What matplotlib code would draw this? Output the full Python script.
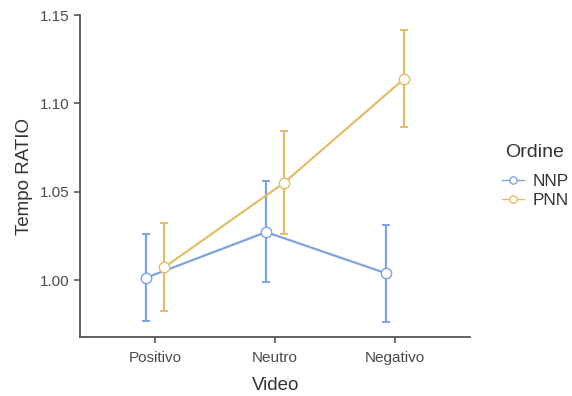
import matplotlib
matplotlib.use("Agg")
import matplotlib.pyplot as plt
import numpy as np

plt.rcParams['font.family'] = ['Liberation Sans', 'DejaVu Sans']

categories = ['Positivo', 'Neutro', 'Negativo']
groups = ['NNP', 'PNN']
means = {
    'NNP': [1.0015, 1.0273, 1.0040],
    'PNN': [1.0073, 1.0552, 1.1140],
}
lower = {
    'NNP': [0.9770, 0.9990, 0.9763],
    'PNN': [0.9825, 1.0260, 1.0868],
}
upper = {
    'NNP': [1.0265, 1.0564, 1.0315],
    'PNN': [1.0322, 1.0845, 1.1418],
}
colors = {'NNP': '#7fa3dd', 'PNN': '#e2bd6c'}
offsets = {'NNP': -0.075, 'PNN': 0.075}

fig = plt.figure(figsize=(5.72, 3.96), dpi=100)
ax = fig.add_axes([0.14, 0.149, 0.682, 0.813])

x = np.arange(1, len(categories) + 1)
for g in groups:
    xs = x + offsets[g]
    m = np.array(means[g])
    lo = m - np.array(lower[g])
    hi = np.array(upper[g]) - m
    ax.errorbar(xs, m, yerr=[lo, hi], fmt='none', ecolor=colors[g],
                elinewidth=1.6, capsize=3, capthick=1.4, zorder=2)
    ax.plot(xs, m, '-o', color=colors[g], lw=1.6, ms=7.5,
            mfc='white', mec=colors[g], mew=1.0, label=g, zorder=3)

ax.set_xlim(0.375, 3.625)
ax.set_ylim(0.968, 1.15)
ax.set_xticks(x)
ax.set_xticklabels(categories)
ax.set_yticks([1.00, 1.05, 1.10, 1.15])
ax.set_yticklabels(['1.00', '1.05', '1.10', '1.15'])
ax.tick_params(axis='both', labelsize=11, colors='#555555', labelcolor='#4a4a4a',
               length=4, width=1.2)
ax.tick_params(axis='x', pad=6)
for s in ['top', 'right']:
    ax.spines[s].set_visible(False)
for s in ['left', 'bottom']:
    ax.spines[s].set_color('#555555')
    ax.spines[s].set_linewidth(1.3)

ax.set_xlabel('Video', fontsize=13.5, color='#333333', labelpad=9)
ax.set_ylabel('Tempo RATIO', fontsize=13.5, color='#333333', labelpad=5)

leg = ax.legend(loc='center left', bbox_to_anchor=(0.877, 0.5185),
                bbox_transform=fig.transFigure, frameon=False, fontsize=12.4,
                handlelength=1.3, handletextpad=0.5, labelspacing=0.22,
                borderpad=0, borderaxespad=0, markerscale=0.7)
for t in leg.get_texts():
    t.set_color('#333333')
for h in leg.get_lines():
    h.set_linewidth(1.0)
fig.text(0.883, 0.616, 'Ordine', fontsize=14, color='#333333', va='center', ha='left')

fig.savefig('out.png', dpi=100)
